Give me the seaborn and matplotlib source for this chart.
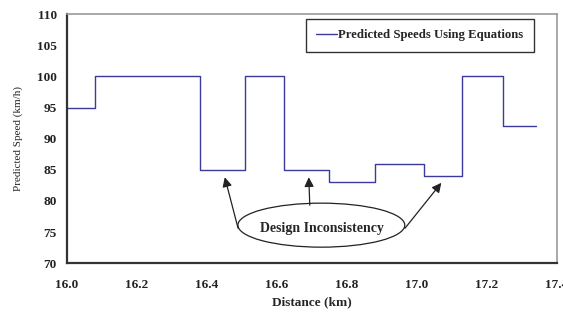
import matplotlib
matplotlib.use("Agg")
import matplotlib.pyplot as plt
import seaborn as sns
from matplotlib.patches import Ellipse

# data
distance = [16.0, 16.08, 16.38, 16.51, 16.62, 16.75, 16.88, 17.02, 17.13, 17.245, 17.34]
speed = [95, 100, 85, 100, 85, 83, 86, 84, 100, 92, 92]
x_ticks = [16.0, 16.2, 16.4, 16.6, 16.8, 17.0, 17.2, 17.4]
y_ticks = [70, 75, 80, 85, 90, 95, 100, 105, 110]

# arrow tips pointing at the dips
arrow_tips = [(16.451, 83.8), (16.691, 83.8), (17.07, 82.9)]
arrow_tails = [(16.489, 75.6), (16.694, 79.3), (16.966, 75.6)]

sns.set_style("white")
plt.rcParams['font.family'] = ['Liberation Serif', 'DejaVu Serif']

fig = plt.figure(figsize=(5.63, 3.14), dpi=100)
ax = fig.add_axes([0.119, 0.162, 0.870, 0.793])

sns.lineplot(x=distance, y=speed, drawstyle='steps-post', color='#3b3b9c',
             linewidth=1.0, label='Predicted Speeds Using Equations', ax=ax)

ax.set_xlim(16.0, 17.4)
ax.set_ylim(70, 110)
ax.set_xticks(x_ticks)
ax.set_yticks(y_ticks)
ax.set_xticklabels([f"{t:.1f}" for t in x_ticks], fontsize=9.5, fontweight='bold')
ax.set_yticklabels([str(t) for t in y_ticks], fontsize=9.5, fontweight='bold')
ax.tick_params(direction='inout', length=6.5, width=1.2, colors='#222222')
ax.tick_params(axis='x', pad=8)
ax.tick_params(axis='y', pad=4)

for side in ['left', 'bottom']:
    ax.spines[side].set_color('#333333')
    ax.spines[side].set_linewidth(1.6)
for side in ['top', 'right']:
    ax.spines[side].set_color('#999999')
    ax.spines[side].set_linewidth(1.2)

ax.set_xlabel('Distance (km)', fontsize=9.5, fontweight='bold', labelpad=4)
ax.set_ylabel('Predicted Speed (km/h)', fontsize=8, labelpad=10)

leg = ax.legend(loc='upper right', bbox_to_anchor=(0.953, 0.980), borderaxespad=0,
                fancybox=False, edgecolor='#333333', framealpha=1, handlelength=1.6,
                handletextpad=0.15, borderpad=0.8, prop={'size': 9.2, 'weight': 'bold'})
leg.get_frame().set_linewidth(1.0)

# design inconsistency callout
ax.add_patch(Ellipse((16.727, 76.1), 0.477, 7.07, fill=False, edgecolor='#222222', linewidth=0.9))
ax.text(16.73, 75.6, 'Design Inconsistency', ha='center', va='center',
        fontsize=10, fontweight='bold')
for tip, tail in zip(arrow_tips, arrow_tails):
    ax.annotate('', xy=tip, xytext=tail,
                arrowprops=dict(arrowstyle='-|>', color='#222222', lw=0.9,
                                mutation_scale=14, shrinkA=0, shrinkB=0))

fig.savefig('out.png', dpi=100)
